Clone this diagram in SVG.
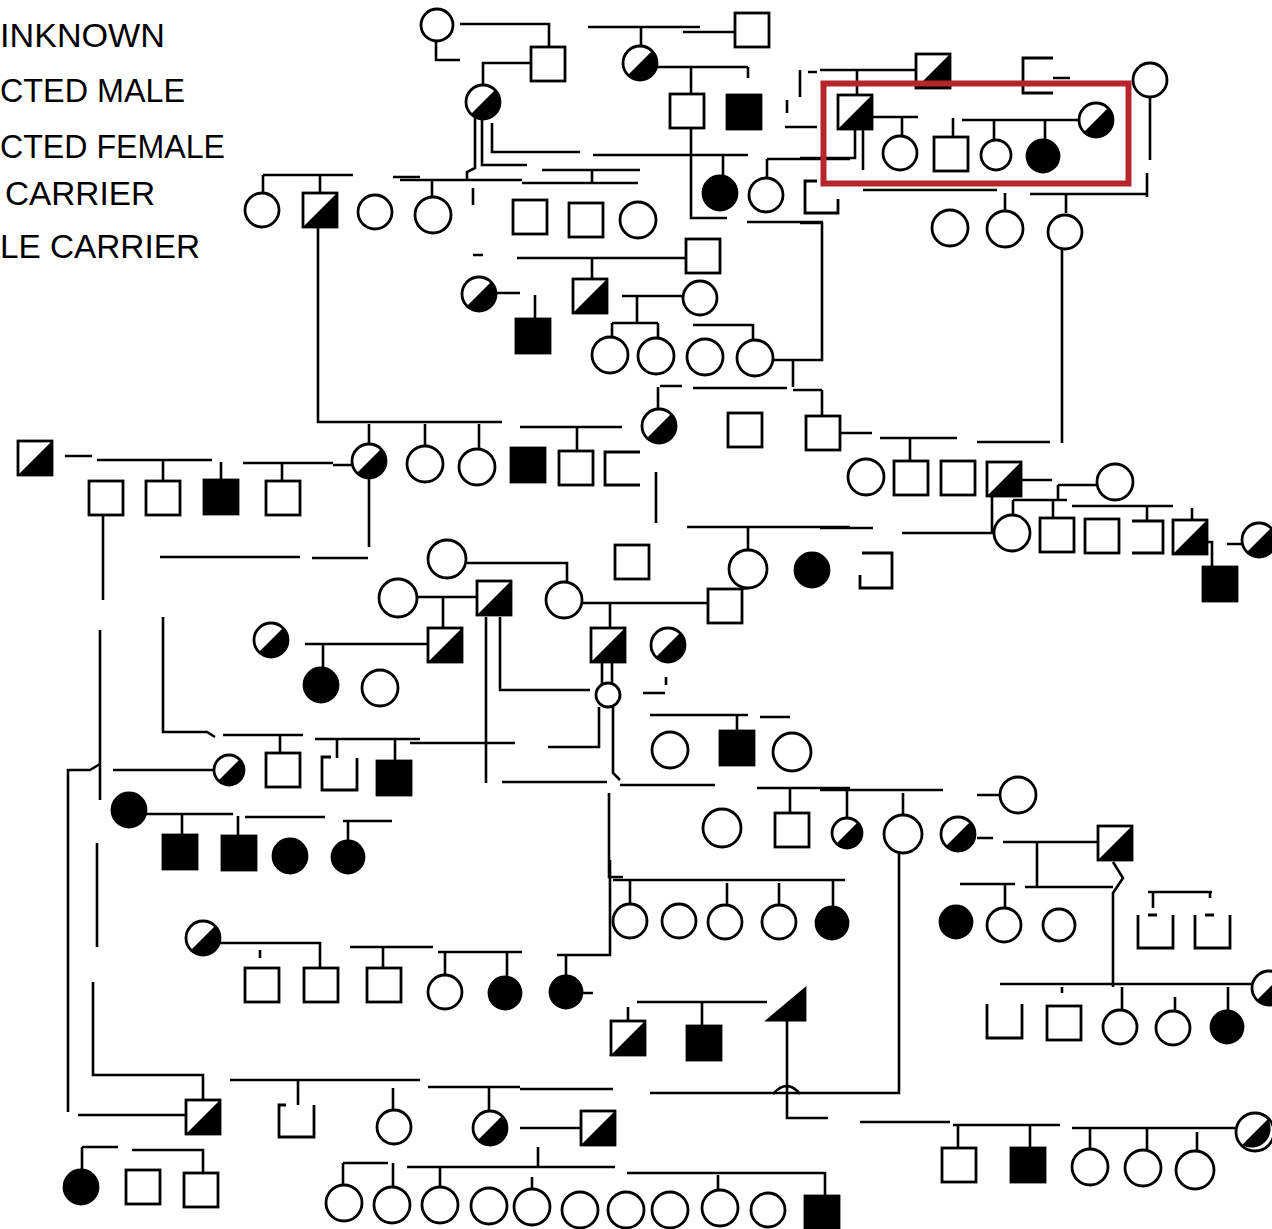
<svg xmlns="http://www.w3.org/2000/svg" xmlns:xlink="http://www.w3.org/1999/xlink" width="1272" height="1229" viewBox="0 0 1272 1229">
<style>
.o{fill:#fff;stroke:#000;stroke-width:2.8}
.f{fill:#000;stroke:#000;stroke-width:2.8}
.h{fill:#000;stroke:none}
.b{fill:none;stroke:#000;stroke-width:2.8}
.lg{font-family:"Liberation Sans",Arial,sans-serif;font-size:34px;fill:#000}
#links path{fill:none;stroke:#000;stroke-width:2.6}
</style>
<defs>
<g id="SQ"><rect x="-17" y="-17" width="34" height="34" class="o"/></g>
<g id="SQF"><rect x="-17" y="-17" width="34" height="34" class="f"/></g>
<g id="SQC"><rect x="-17" y="-17" width="34" height="34" class="o"/><path d="M17,-17V17H-17Z" class="h"/></g>
<g id="CI"><circle r="17" class="o"/></g>
<g id="CIF"><circle r="17" class="f"/></g>
<g id="CIC"><circle r="17" class="o"/><path d="M-12,12A17,17 0 0 0 12,-12Z" class="h"/></g>
</defs>
<rect width="1272" height="1229" fill="#fff"/>

<g id="legend">
<text class="lg" x="0" y="47" textLength="165" lengthAdjust="spacingAndGlyphs">INKNOWN</text>
<text class="lg" x="0" y="102" textLength="185" lengthAdjust="spacingAndGlyphs">CTED MALE</text>
<text class="lg" x="0" y="158" textLength="225" lengthAdjust="spacingAndGlyphs">CTED FEMALE</text>
<text class="lg" x="5" y="205" textLength="150" lengthAdjust="spacingAndGlyphs">CARRIER</text>
<text class="lg" x="0" y="258" textLength="200" lengthAdjust="spacingAndGlyphs">LE CARRIER</text>
</g>

<g id="links">
<path d="M460,24H549V47M436,41V60H460M483,86V63H531"/>
<path d="M588,27H700M683,32H735M641,28V46"/>
<path d="M657,67H748M691,67V95M748,67V78"/>
<path d="M475,118V168L467,172V180M400,180H522M482,118V165H527M492,123V152H580M593,155H748"/>
<path d="M542,170H640M592,170V182M522,183H638"/>
<path d="M723,155V176M767,159V178M767,159H850M691,128V218H727M747,222H823"/>
<path d="M800,70V97M808,72H817M787,100V113M785,127H817M820,70H917M857,70V96"/>
<path d="M872,117H918M902,117V136M962,120H1078M953,118V137M994,120V140M1045,120V140M863,130V170M855,128V158H800"/>
<path d="M1053,78H1070M1150,97V160M1147,173V197M1030,194H1147M1066,194V213M863,190H997M1005,193V210"/>
<path d="M800,223H823M822,222V360H772M793,360V387M793,390H822M693,388H787M822,390V416"/>
<path d="M1062,250V443"/>
<path d="M263,175H353M263,175V193M320,175V193M393,177H420M432,180V197M318,227V422H502M425,424V447M479,424V450M369,424V445M473,188V205"/>
<path d="M473,255H483M517,258H687M592,258V280"/>
<path d="M495,293H520M535,295V320M622,296H683M637,296V322M612,323H658M612,323V338M658,323V339M693,325H753V340"/>
<path d="M660,386H682M658,387V410"/>
<path d="M840,433H872M880,438H957M910,438V462M977,442H1050"/>
<path d="M65,456H92M97,460H212M163,460V482M221,462V481M243,463H333M282,463V482M333,465H353"/>
<path d="M520,427H622M577,427V451"/>
<path d="M369,477V547M160,557H300M312,558H368"/>
<path d="M103,515V600M100,630V800M97,843V947M93,982V1075H203V1100"/>
<path d="M68,1112V770H90L100,764M113,770H213M78,1115H187"/>
<path d="M656,472V523M687,527H850M748,527V550M820,528H873M902,533H992V497"/>
<path d="M1022,480H1052M1058,485H1097M1058,485V500M1013,500H1067M1013,500V515M1053,500V518M1072,506H1173M1147,506V522M1192,508V520M1208,542H1212V567M1227,544H1242"/>
<path d="M467,563H567V582M413,597H477M443,597V628M582,603H708M610,603V628M748,588L735,590"/>
<path d="M305,644H428M323,644V668"/>
<path d="M486,617V783M500,617V690H590M602,662V685M612,662V685M613,707V773L620,780M599,707V747H548M643,693H665M666,677V685"/>
<path d="M650,715H748M737,715V733M760,717H790"/>
<path d="M410,743H515M163,617V732H207L215,737M223,735H303M315,739H420M280,735V755M337,739V758M395,740V763"/>
<path d="M145,814H233M182,814V837M238,816V837M245,817H325M343,821H392M348,821V843"/>
<path d="M502,782H607M609,793V877H623M610,860V955H557M566,955V976"/>
<path d="M620,785H715M757,788H850M790,788V813M820,790H943M847,790V818M903,793V815M977,795H1000"/>
<path d="M899,853V1093H650"/>
<path d="M977,838H993M1003,842H1098M1037,843V887M1025,887H1113M1113,862L1123,878L1113,893V987M960,884H1015M1005,884V908M1148,892H1212M1153,892V908M1210,892V898"/>
<path d="M1000,984H1252M1122,987V1011M1175,997V1012M1228,987V1012M1062,987V993"/>
<path d="M613,880H845M630,880V905M727,883V906M779,883V906M833,880V908"/>
<path d="M218,943H320V969M260,950V958M350,947H433M383,947V969M438,952H522M445,952V976M507,952V978M582,993H593"/>
<path d="M637,1002H767M628,1007V1022M702,1002V1028M787,1020V1118H828M773,1094Q787,1078 800,1094"/>
<path d="M860,1122H950M953,1125H1060M1072,1128H1235M958,1125V1148M1030,1125V1148M1090,1128V1149M1147,1128V1150M1197,1132V1151"/>
<path d="M230,1080H420M298,1080V1105M393,1088V1110M428,1087H520M520,1089H613M489,1087V1112M520,1128H580"/>
<path d="M82,1147H118M82,1147V1170M132,1150H203V1173"/>
<path d="M407,1167H615M538,1147V1167M440,1168V1187M532,1177V1190M343,1163H388M343,1163V1185M393,1163V1187M627,1173H825V1198M718,1175V1192"/>
</g>

<g id="n1"><circle cx="437" cy="25" r="16" class="o"/></g>
<g id="n2"><use href="#SQ" x="548" y="64"/></g>
<g id="n3"><use href="#CIC" x="640" y="63"/></g>
<g id="n4"><use href="#SQ" x="752" y="30"/></g>
<g id="n5"><use href="#SQC" x="933" y="71"/></g>
<g id="n6"><path d="M1053,58H1023V93H1053" class="b"/></g>
<g id="n7"><use href="#CI" x="1150" y="80"/></g>
<g id="n8"><use href="#CIC" x="483" y="102"/></g>
<g id="n9"><use href="#SQ" x="687" y="111"/></g>
<g id="n10"><use href="#SQF" x="744" y="112"/></g>
<g id="n11"><use href="#SQC" x="855" y="112"/></g>
<g id="n12"><use href="#CIC" x="1096" y="120"/></g>
<g id="n13"><use href="#CI" x="900" y="153"/></g>
<g id="n14"><use href="#SQ" x="951" y="154"/></g>
<g id="n15"><circle cx="996" cy="155" r="15" class="o"/></g>
<g id="n16"><circle cx="1043" cy="156" r="16" class="f"/></g>
<g id="n17"><circle cx="950" cy="228" r="18" class="o"/></g>
<g id="n18"><circle cx="1005" cy="229" r="18" class="o"/></g>
<g id="n19"><use href="#CI" x="1065" y="232"/></g>
<g id="n20"><path d="M817,181H805V213H838V199" class="b"/></g>
<g id="n21"><use href="#CIF" x="720" y="193"/></g>
<g id="n22"><use href="#CI" x="766" y="195"/></g>
<g id="n23"><use href="#CI" x="262" y="210"/></g>
<g id="n24"><use href="#SQC" x="320" y="210"/></g>
<g id="n25"><use href="#CI" x="375" y="212"/></g>
<g id="n26"><circle cx="433" cy="215" r="18" class="o"/></g>
<g id="n27"><use href="#SQ" x="530" y="217"/></g>
<g id="n28"><use href="#SQ" x="586" y="220"/></g>
<g id="n29"><circle cx="638" cy="220" r="18" class="o"/></g>
<g id="n30"><use href="#SQ" x="703" y="256"/></g>
<g id="n31"><use href="#CIC" x="479" y="294"/></g>
<g id="n32"><use href="#SQC" x="590" y="296"/></g>
<g id="n33"><use href="#CI" x="700" y="298"/></g>
<g id="n34"><use href="#SQF" x="533" y="336"/></g>
<g id="n35"><circle cx="610" cy="355" r="18" class="o"/></g>
<g id="n36"><circle cx="656" cy="356" r="18" class="o"/></g>
<g id="n37"><circle cx="705" cy="357" r="18" class="o"/></g>
<g id="n38"><circle cx="755" cy="358" r="18" class="o"/></g>
<g id="n39"><use href="#CIC" x="659" y="426"/></g>
<g id="n40"><use href="#SQ" x="745" y="430"/></g>
<g id="n41"><use href="#SQ" x="823" y="433"/></g>
<g id="n42"><use href="#SQC" x="35" y="458"/></g>
<g id="n43"><use href="#SQ" x="106" y="498"/></g>
<g id="n44"><use href="#SQ" x="163" y="498"/></g>
<g id="n45"><use href="#SQF" x="221" y="497"/></g>
<g id="n46"><use href="#SQ" x="283" y="498"/></g>
<g id="n47"><use href="#CIC" x="369" y="461"/></g>
<g id="n48"><circle cx="425" cy="464" r="18" class="o"/></g>
<g id="n49"><circle cx="477" cy="467" r="18" class="o"/></g>
<g id="n50"><use href="#SQF" x="528" y="465"/></g>
<g id="n51"><use href="#SQ" x="576" y="468"/></g>
<g id="n52"><path d="M640,452H605V485H640" class="b"/></g>
<g id="n53"><circle cx="866" cy="477" r="18" class="o"/></g>
<g id="n54"><use href="#SQ" x="911" y="478"/></g>
<g id="n55"><use href="#SQ" x="958" y="478"/></g>
<g id="n56"><use href="#SQC" x="1004" y="479"/></g>
<g id="n57"><circle cx="1115" cy="482" r="18" class="o"/></g>
<g id="n58"><circle cx="1012" cy="533" r="18" class="o"/></g>
<g id="n59"><use href="#SQ" x="1057" y="535"/></g>
<g id="n60"><use href="#SQ" x="1102" y="536"/></g>
<g id="n61"><path d="M1132,521H1163V553H1132" class="b"/></g>
<g id="n62"><use href="#SQC" x="1190" y="537"/></g>
<g id="n63"><use href="#CIC" x="1259" y="540"/></g>
<g id="n64"><use href="#SQF" x="1220" y="584"/></g>
<g id="n65"><circle cx="447" cy="559" r="19" class="o"/></g>
<g id="n66"><use href="#SQ" x="632" y="562"/></g>
<g id="n67"><circle cx="748" cy="569" r="19" class="o"/></g>
<g id="n68"><use href="#CIF" x="812" y="570"/></g>
<g id="n69"><path d="M862,553H892V588H860V575" class="b"/></g>
<g id="n70"><circle cx="398" cy="598" r="19" class="o"/></g>
<g id="n71"><use href="#SQC" x="494" y="598"/></g>
<g id="n72"><circle cx="564" cy="600" r="18" class="o"/></g>
<g id="n73"><use href="#SQ" x="725" y="606"/></g>
<g id="n74"><use href="#SQC" x="608" y="645"/></g>
<g id="n75"><use href="#CIC" x="668" y="645"/></g>
<g id="n76"><use href="#CIC" x="271" y="640"/></g>
<g id="n77"><use href="#SQC" x="445" y="645"/></g>
<g id="n78"><use href="#CIF" x="321" y="685"/></g>
<g id="n79"><circle cx="380" cy="688" r="18" class="o"/></g>
<g id="n80"><circle cx="608" cy="695" r="12" class="o"/></g>
<g id="n81"><circle cx="670" cy="750" r="18" class="o"/></g>
<g id="n82"><use href="#SQF" x="737" y="748"/></g>
<g id="n83"><circle cx="792" cy="752" r="19" class="o"/></g>
<g id="n84"><circle cx="229" cy="770" r="15" class="o"/><path d="M218,781A15,15 0 0 0 240,759Z" class="h"/></g>
<g id="n85"><use href="#SQ" x="283" y="770"/></g>
<g id="n86"><path d="M331,757H322V790H357V758" class="b"/></g>
<g id="n87"><use href="#SQF" x="394" y="778"/></g>
<g id="n88"><use href="#CIF" x="129" y="810"/></g>
<g id="n89"><use href="#SQF" x="180" y="852"/></g>
<g id="n90"><use href="#SQF" x="239" y="853"/></g>
<g id="n91"><use href="#CIF" x="290" y="856"/></g>
<g id="n92"><circle cx="348" cy="857" r="16" class="f"/></g>
<g id="n93"><circle cx="1018" cy="795" r="18" class="o"/></g>
<g id="n94"><circle cx="722" cy="828" r="19" class="o"/></g>
<g id="n95"><use href="#SQ" x="792" y="830"/></g>
<g id="n96"><circle cx="847" cy="833" r="15" class="o"/><path d="M836,844A15,15 0 0 0 858,822Z" class="h"/></g>
<g id="n97"><circle cx="903" cy="834" r="19" class="o"/></g>
<g id="n98"><use href="#CIC" x="958" y="834"/></g>
<g id="n99"><use href="#SQC" x="1115" y="843"/></g>
<g id="n100"><circle cx="956" cy="922" r="16" class="f"/></g>
<g id="n101"><use href="#CI" x="1004" y="925"/></g>
<g id="n102"><circle cx="1059" cy="925" r="16" class="o"/></g>
<g id="n103"><path d="M1138,915V948H1173V915M1148,915H1157" class="b"/></g>
<g id="n104"><path d="M1195,915V948H1230V915M1205,915H1214" class="b"/></g>
<g id="n105"><path d="M987,1004V1038H1022V1004" class="b"/></g>
<g id="n106"><use href="#SQ" x="1064" y="1023"/></g>
<g id="n107"><use href="#CI" x="1120" y="1027"/></g>
<g id="n108"><use href="#CI" x="1173" y="1028"/></g>
<g id="n109"><circle cx="1227" cy="1027" r="16" class="f"/></g>
<g id="n110"><use href="#CIC" x="1269" y="988"/></g>
<g id="n111"><use href="#CI" x="630" y="921"/></g>
<g id="n112"><use href="#CI" x="679" y="921"/></g>
<g id="n113"><use href="#CI" x="725" y="922"/></g>
<g id="n114"><use href="#CI" x="779" y="922"/></g>
<g id="n115"><circle cx="832" cy="923" r="16" class="f"/></g>
<g id="n116"><use href="#CIC" x="203" y="938"/></g>
<g id="n117"><use href="#SQ" x="262" y="985"/></g>
<g id="n118"><use href="#SQ" x="321" y="985"/></g>
<g id="n119"><use href="#SQ" x="384" y="985"/></g>
<g id="n120"><use href="#CI" x="445" y="992"/></g>
<g id="n121"><circle cx="505" cy="993" r="16" class="f"/></g>
<g id="n122"><circle cx="566" cy="992" r="16" class="f"/></g>
<g id="n123"><use href="#SQC" x="628" y="1038"/></g>
<g id="n124"><use href="#SQF" x="704" y="1043"/></g>
<g id="n125"><path d="M768,1020L805,989V1020Z" class="f"/></g>
<g id="n126"><use href="#SQC" x="203" y="1117"/></g>
<g id="n127"><path d="M286,1105H279V1137H314V1105" class="b"/></g>
<g id="n128"><use href="#CI" x="394" y="1127"/></g>
<g id="n129"><circle cx="490" cy="1128" r="17" class="o"/><path d="M478,1140A17,17 0 0 0 502,1116Z" class="h"/></g>
<g id="n130"><use href="#SQC" x="598" y="1128"/></g>
<g id="n131"><use href="#CIF" x="81" y="1187"/></g>
<g id="n132"><use href="#SQ" x="143" y="1187"/></g>
<g id="n133"><use href="#SQ" x="201" y="1190"/></g>
<g id="n134"><circle cx="344" cy="1203" r="18" class="o"/></g>
<g id="n135"><circle cx="392" cy="1205" r="18" class="o"/></g>
<g id="n136"><circle cx="440" cy="1205" r="18" class="o"/></g>
<g id="n137"><circle cx="489" cy="1206" r="18" class="o"/></g>
<g id="n138"><circle cx="532" cy="1207" r="18" class="o"/></g>
<g id="n139"><circle cx="580" cy="1210" r="18" class="o"/></g>
<g id="n140"><circle cx="626" cy="1210" r="18" class="o"/></g>
<g id="n141"><circle cx="670" cy="1210" r="18" class="o"/></g>
<g id="n142"><circle cx="720" cy="1208" r="18" class="o"/></g>
<g id="n143"><circle cx="768" cy="1210" r="17" class="o"/></g>
<g id="n144"><use href="#SQF" x="822" y="1213"/></g>
<g id="n145"><use href="#SQ" x="959" y="1165"/></g>
<g id="n146"><use href="#SQF" x="1028" y="1165"/></g>
<g id="n147"><circle cx="1090" cy="1167" r="18" class="o"/></g>
<g id="n148"><circle cx="1143" cy="1168" r="18" class="o"/></g>
<g id="n149"><circle cx="1195" cy="1170" r="19" class="o"/></g>
<g id="n150"><circle cx="1255" cy="1132" r="19" class="o"/><path d="M1242,1145A19,19 0 0 0 1268,1119Z" class="h"/></g>

<g id="highlight"><rect x="823.5" y="83.5" width="305" height="100" fill="none" stroke="#b5252a" stroke-width="6"/></g>
</svg>
